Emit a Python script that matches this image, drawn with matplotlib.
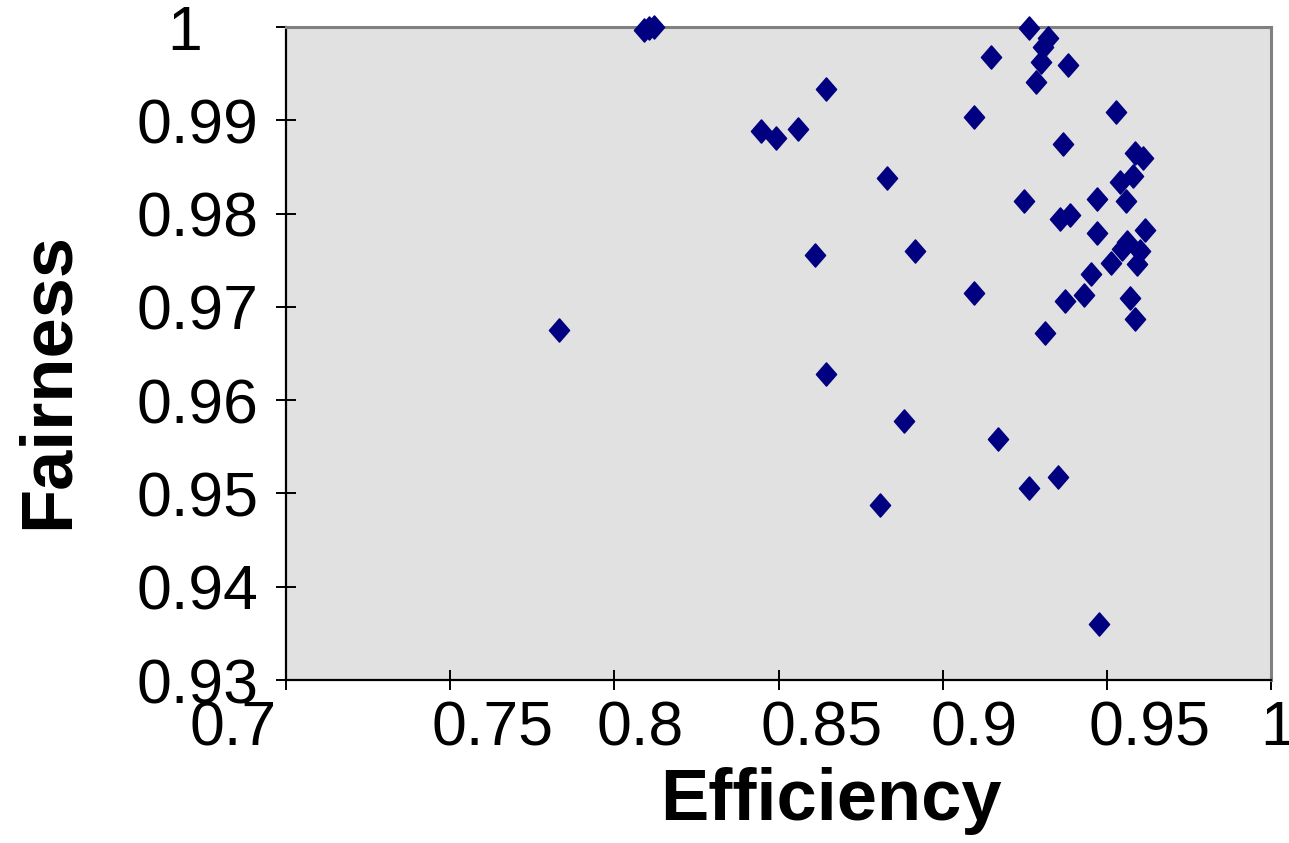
import numpy as np
import matplotlib
matplotlib.use("Agg")
import matplotlib.pyplot as plt
from matplotlib.path import Path
from matplotlib.transforms import ScaledTranslation

plt.rcParams["font.family"] = ["Liberation Sans", "DejaVu Sans"]

# values
efficiency = [
    0.7832, 0.8091, 0.8107, 0.8122, 0.8645, 0.8448, 0.8491, 0.8558, 0.8830,
    0.8610, 0.8917, 0.8645, 0.8882, 0.8808, 0.9264, 0.9321, 0.9305, 0.9300,
    0.9381, 0.9146, 0.9283, 0.9095, 0.9527, 0.9367, 0.9585, 0.9610, 0.9580,
    0.9541, 0.9471, 0.9557, 0.9249, 0.9358, 0.9387, 0.9616, 0.9471, 0.9562,
    0.9547, 0.9602, 0.9592, 0.9514, 0.9453, 0.9095, 0.9312, 0.9373, 0.9431,
    0.9570, 0.9585, 0.9168, 0.9263, 0.9351, 0.9476,
]
fairness = [
    0.9675, 0.9997, 0.9999, 1.0000, 0.9934, 0.9888, 0.9881, 0.9891, 0.9838,
    0.9756, 0.9760, 0.9628, 0.9578, 0.9488, 0.9999, 0.9988, 0.9979, 0.9962,
    0.9959, 0.9968, 0.9941, 0.9904, 0.9909, 0.9875, 0.9865, 0.9860, 0.9840,
    0.9834, 0.9816, 0.9813, 0.9813, 0.9794, 0.9798, 0.9782, 0.9779, 0.9769,
    0.9762, 0.9760, 0.9746, 0.9747, 0.9735, 0.9715, 0.9672, 0.9706, 0.9713,
    0.9710, 0.9687, 0.9558, 0.9506, 0.9518, 0.9360,
]
x_ticks = [0.7, 0.75, 0.8, 0.85, 0.9, 0.95, 1.0]
x_tick_labels = ["0.7", "0.75", "0.8", "0.85", "0.9", "0.95", "1"]
y_ticks = [0.93, 0.94, 0.95, 0.96, 0.97, 0.98, 0.99, 1.0]
y_tick_labels = ["0.93", "0.94", "0.95", "0.96", "0.97", "0.98", "0.99", "1"]

# excel squeezes the tick labels a bit off their ticks (pixel shifts)
x_label_shift = [-53, 42, 26, 43, 31, 43, 7]
y_label_shift = [0, 0, 0, 0, 0, 0, 0, -56]

DPI = 100
fig = plt.figure(figsize=(12.89, 8.43), dpi=DPI)
ax = fig.add_axes([286 / 1289, 1 - 680 / 843, 985 / 1289, 653 / 843])
ax.set_facecolor("#E1E1E1")

# slightly tall diamond like excel's marker
diamond = Path([(0, 1), (0.87, 0), (0, -1), (-0.87, 0), (0, 1)],
               [Path.MOVETO, Path.LINETO, Path.LINETO, Path.LINETO, Path.CLOSEPOLY])
ax.scatter(efficiency, fairness, marker=diamond, s=16.5 ** 2, color="#000080",
           edgecolors="#000080", linewidths=1.2, zorder=5, clip_on=False)

ax.set_xlim(0.7, 1.0)
ax.set_ylim(0.93, 1.0)
ax.set_xticks(x_ticks)
ax.set_xticklabels(x_tick_labels)
ax.set_yticks(y_ticks)
ax.set_yticklabels(y_tick_labels)
ax.tick_params(direction="inout", length=14, width=1.4, color="black",
               labelsize=45, labelcolor="black")
ax.tick_params(axis="x", pad=7)
ax.tick_params(axis="y", pad=13)

for lab, dx in zip(ax.get_xticklabels(), x_label_shift):
    lab.set_transform(lab.get_transform() + ScaledTranslation(dx / DPI, 0, fig.dpi_scale_trans))
for lab, dx in zip(ax.get_yticklabels(), y_label_shift):
    lab.set_transform(lab.get_transform() + ScaledTranslation(dx / DPI, 0, fig.dpi_scale_trans))

for side in ["left", "bottom"]:
    ax.spines[side].set_color("black")
    ax.spines[side].set_linewidth(1.6)
for side in ["top", "right"]:
    ax.spines[side].set_color("#808080")
    ax.spines[side].set_linewidth(2.2)

ax.set_xlabel("Efficiency", fontsize=52, fontweight="bold")
ax.xaxis.set_label_coords(0.553, -0.133)
ax.set_ylabel("Fairness", fontsize=52, fontweight="bold")
ax.yaxis.set_label_coords(-0.206, 0.459)

fig.savefig("out.png", dpi=DPI)
